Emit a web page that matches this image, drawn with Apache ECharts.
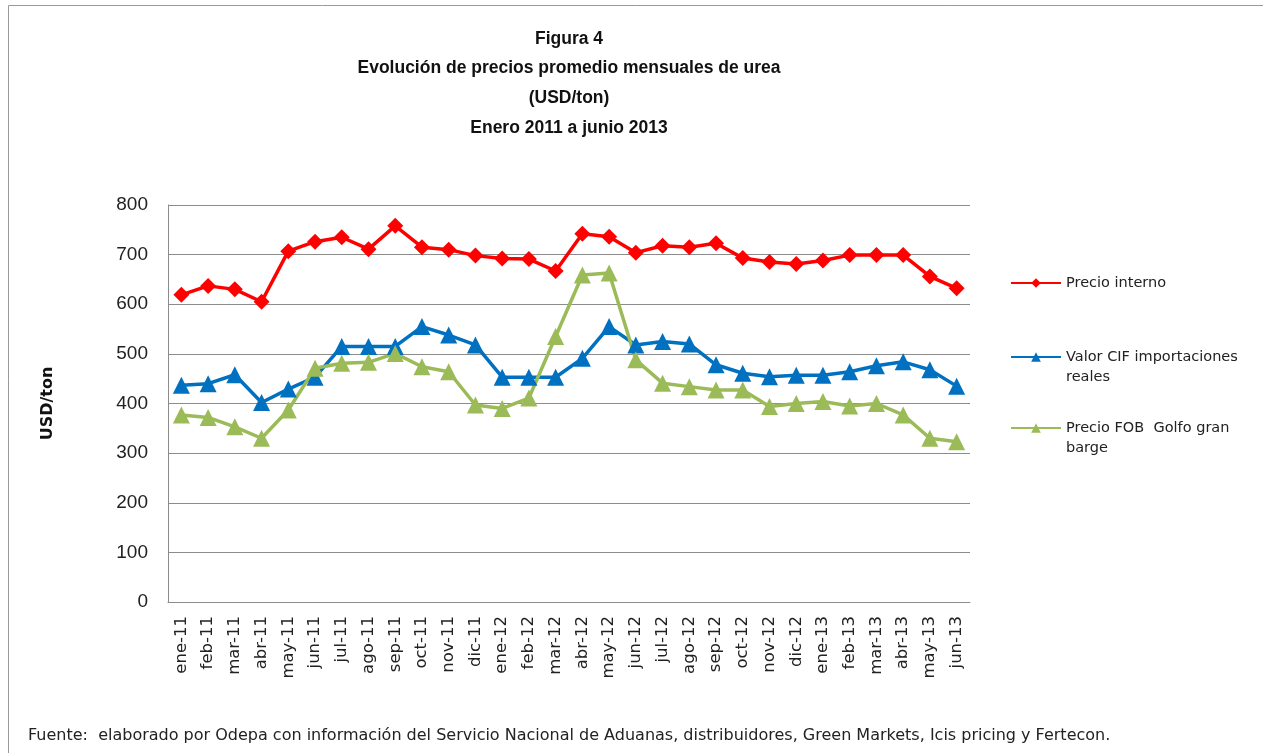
<!DOCTYPE html>
<html>
<head>
<meta charset="utf-8">
<script src="https://cdn.jsdelivr.net/npm/echarts@6/dist/echarts.min.js"></script>
<style>
  html, body { margin: 0; padding: 0; background: #fff; }
  #chart { width: 1263px; height: 753px; }
</style>
</head>
<body>
<div id="chart"></div>
<script>
var months = ['ene-11', 'feb-11', 'mar-11', 'abr-11', 'may-11', 'jun-11', 'jul-11', 'ago-11', 'sep-11', 'oct-11', 'nov-11', 'dic-11',
  'ene-12', 'feb-12', 'mar-12', 'abr-12', 'may-12', 'jun-12', 'jul-12', 'ago-12', 'sep-12', 'oct-12', 'nov-12', 'dic-12',
  'ene-13', 'feb-13', 'mar-13', 'abr-13', 'may-13', 'jun-13'];
var precioInterno = [619, 637, 630, 605, 707, 726, 735, 711, 758, 715, 710, 698, 692, 691, 667, 742,
  736, 704, 718, 715, 723, 693, 685, 681, 688, 699, 699, 699, 656, 632];
var valorCif = [437, 440, 458, 402, 429, 453, 515, 515, 515, 555, 538, 518, 453, 453, 453, 491,
  555, 518, 525, 520, 478, 461, 454, 457, 457, 464, 476, 484, 468, 435];
var precioFob = [377, 372, 353, 330, 387, 471, 481, 483, 501, 474, 464, 397, 390, 411, 535, 659,
  663, 488, 441, 434, 427, 427, 394, 400, 404, 395, 400, 377, 330, 323];
var yTicks = [0, 100, 200, 300, 400, 500, 600, 700, 800];

// leading blank line keeps the legend icon level with the first text line
var wrapNames = {
  'Precio interno': 'Precio interno',
  'Valor CIF importaciones reales': ' \nValor CIF importaciones\nreales',
  'Precio FOB  Golfo gran barge': ' \nPrecio FOB  Golfo gran\nbarge'
};

var chart = echarts.init(document.getElementById('chart'), null, { renderer: 'canvas' });
var gridColor = '#8c8c8c';

function legendAt(top, name) {
  return {
    orient: 'vertical',
    left: 1005,
    top: top,
    itemWidth: 50,
    itemHeight: 12,
    data: [name],
    textStyle: { fontFamily: 'DejaVu Sans', fontSize: 14.5, color: '#222', lineHeight: 20 },
    formatter: function(n) { return wrapNames[n]; }
  };
}

chart.setOption({
  animation: false,
  backgroundColor: '#fff',
  title: [
    {
      text: 'Figura 4\nEvolución de precios promedio mensuales de urea\n(USD/ton)\nEnero 2011 a junio 2013',
      left: 564, top: 19, textAlign: 'center',
      textStyle: { fontFamily: 'Liberation Sans', fontWeight: 'bold', fontSize: 17.5, lineHeight: 29.7, color: '#111' }
    },
    {
      text: 'Fuente:  elaborado por Odepa con información del Servicio Nacional de Aduanas, distribuidores, Green Markets, Icis pricing y Fertecon.',
      left: 23, top: 723,
      textStyle: { fontFamily: 'DejaVu Sans', fontWeight: 'normal', fontSize: 16, color: '#222' }
    }
  ],
  graphic: [
    { type: 'rect', shape: { x: 8.5, y: 5.5, width: 1300, height: 800 }, style: { fill: 'none', stroke: '#999', lineWidth: 1 }, silent: true }
  ],
  legend: [
    legendAt(268, 'Precio interno'),
    legendAt(322, 'Valor CIF importaciones reales'),
    legendAt(393, 'Precio FOB  Golfo gran barge')
  ],
  grid: { left: 168, right: 293, top: 205, bottom: 151, containLabel: false },
  xAxis: {
    type: 'category',
    data: months,
    boundaryGap: true,
    axisLine: { lineStyle: { color: gridColor, width: 1 } },
    axisTick: { show: false },
    axisLabel: { rotate: 90, interval: 0, fontFamily: 'DejaVu Sans', fontSize: 16.5, color: '#222', margin: 14 }
  },
  yAxis: {
    type: 'value',
    min: yTicks[0], max: yTicks[yTicks.length - 1], interval: 100,
    name: 'USD/ton',
    nameLocation: 'middle',
    nameGap: 112,
    nameRotate: 90,
    nameTextStyle: { fontFamily: 'DejaVu Sans', fontWeight: 'bold', fontSize: 16, color: '#111' },
    axisLine: { show: true, lineStyle: { color: gridColor, width: 1 } },
    axisTick: { show: false },
    axisLabel: { fontFamily: 'Liberation Sans', fontSize: 19, color: '#222', margin: 20 },
    splitLine: { lineStyle: { color: gridColor, width: 1 } }
  },
  series: [
    {
      name: 'Precio interno', type: 'line', data: precioInterno,
      symbol: 'diamond', symbolSize: 16,
      lineStyle: { color: '#ff0000', width: 3.5 },
      itemStyle: { color: '#ff0000' }
    },
    {
      name: 'Valor CIF importaciones reales', type: 'line', data: valorCif,
      symbol: 'triangle', symbolSize: 17,
      lineStyle: { color: '#0070c0', width: 3.5 },
      itemStyle: { color: '#0070c0' }
    },
    {
      name: 'Precio FOB  Golfo gran barge', type: 'line', data: precioFob,
      symbol: 'triangle', symbolSize: 17,
      lineStyle: { color: '#9bbb59', width: 3.5 },
      itemStyle: { color: '#9bbb59' }
    }
  ]
});
window.addEventListener('resize', function() { chart.resize(); });
</script>
</body>
</html>
